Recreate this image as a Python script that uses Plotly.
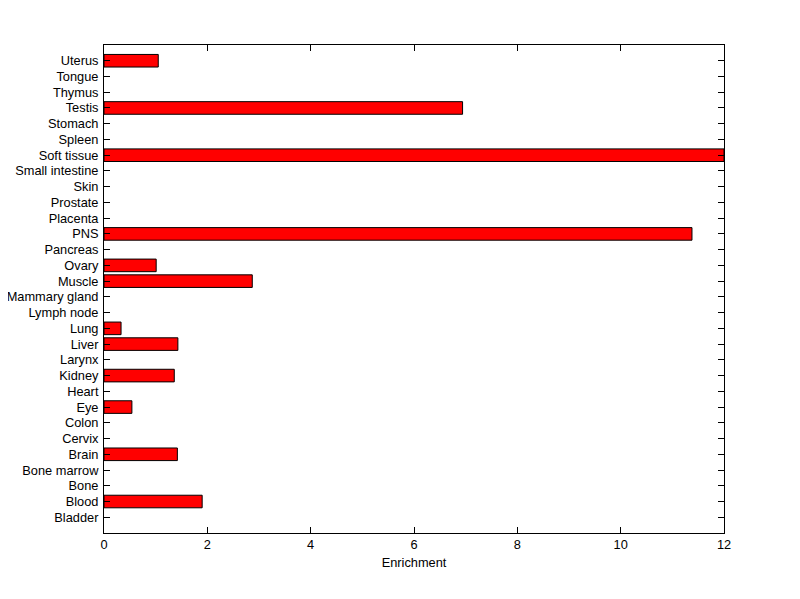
import plotly.graph_objects as go

categories = ["Bladder", "Blood", "Bone", "Bone marrow", "Brain", "Cervix", "Colon", "Eye",
              "Heart", "Kidney", "Larynx", "Liver", "Lung", "Lymph node", "Mammary gland",
              "Muscle", "Ovary", "Pancreas", "PNS", "Placenta", "Prostate", "Skin",
              "Small intestine", "Soft tissue", "Spleen", "Stomach", "Testis", "Thymus",
              "Tongue", "Uterus"]
enrichment = [0, 1.90, 0, 0, 1.42, 0, 0, 0.54,
              0, 1.36, 0, 1.43, 0.33, 0, 0,
              2.87, 1.01, 0, 11.38, 0, 0, 0,
              0, 12.0, 0, 0, 6.94, 0,
              0, 1.05]
x_ticks = [0, 2, 4, 6, 8, 10, 12]

positions = list(range(len(categories)))
bx = [v for v in enrichment if v > 0]
by = [p for p, v in zip(positions, enrichment) if v > 0]

fig = go.Figure()
fig.add_trace(go.Bar(
    x=bx, y=by, orientation="h", width=0.8,
    marker=dict(color="#ff0000", line=dict(color="black", width=1)),
    hoverinfo="skip",
))

font = dict(family="Liberation Sans, Arial, sans-serif", size=12.8, color="black")
fig.update_layout(
    width=800, height=599,
    margin=dict(l=96, r=84, t=37, b=74, autoexpand=False),
    paper_bgcolor="white", plot_bgcolor="white",
    showlegend=False, font=font,
    xaxis=dict(range=[0, 12], tickvals=x_ticks, ticktext=[str(t) for t in x_ticks],
               ticks="inside", ticklen=6, tickcolor="black", tickwidth=1,
               showline=True, linecolor="black", linewidth=1, mirror="ticks",
               showgrid=False, zeroline=False, automargin=False,
               title=dict(text="Enrichment", font=font, standoff=6),
               tickfont=font),
    yaxis=dict(range=[-1, 30], tickvals=positions, ticktext=categories,
               ticks="inside", ticklen=6, tickcolor="black", tickwidth=1,
               showline=True, linecolor="black", linewidth=1, mirror="ticks",
               showgrid=False, zeroline=False, tickfont=font, automargin=False,
               ticklabelstandoff=2),
)

fig.write_html("out.html")
